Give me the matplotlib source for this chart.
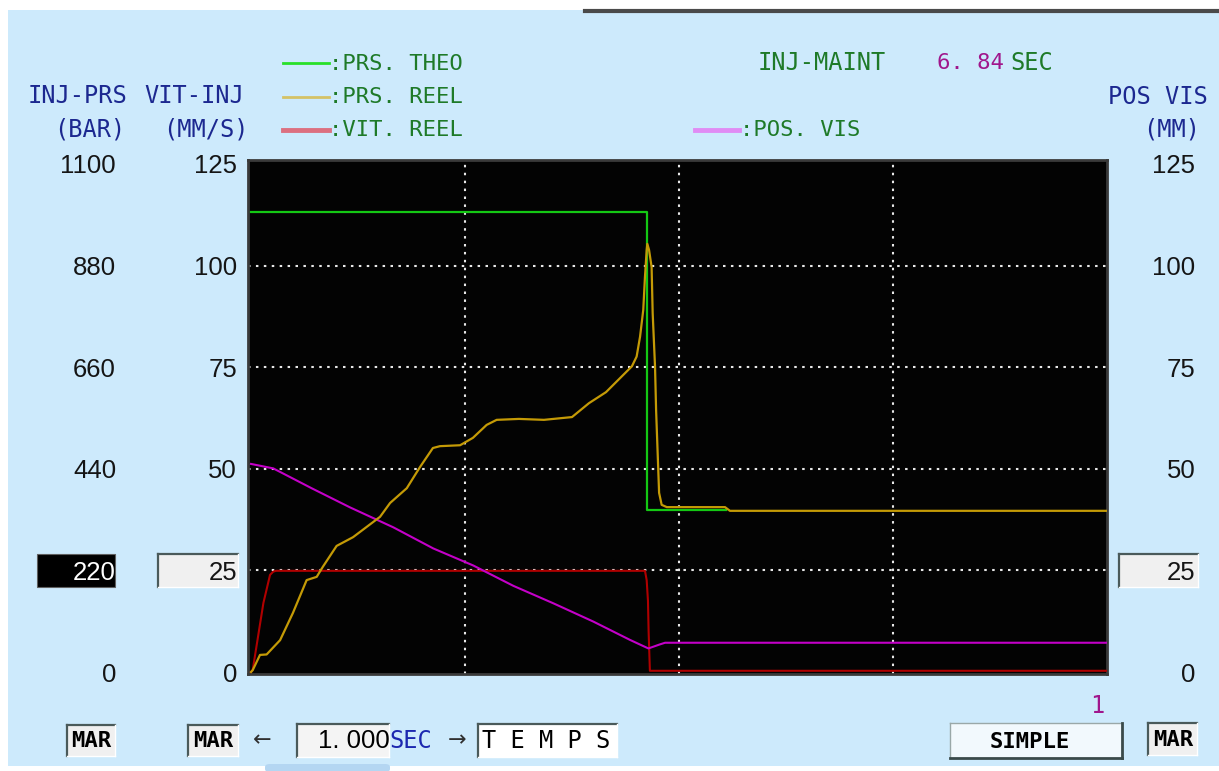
import matplotlib
matplotlib.use("Agg")
import matplotlib.pyplot as plt
from matplotlib.patches import Rectangle, FancyBboxPatch
from matplotlib.lines import Line2D

# ---- data -------------------------------------------------------------
# theoretical injection pressure profile (s, bar)
prs_theo_t = [0.0, 1.850, 1.850, 2.22]
prs_theo_bar = [995, 995, 350, 350]

# measured injection pressure (s, bar)
prs_reel_t = [0.0, 0.008, 0.042, 0.073, 0.136, 0.196, 0.260, 0.307, 0.336, 0.400,
              0.477, 0.540, 0.603, 0.650, 0.728, 0.790, 0.850, 0.883, 0.977, 1.037,
              1.101, 1.148, 1.252, 1.369, 1.500, 1.579, 1.659, 1.780, 1.802, 1.818,
              1.833, 1.841, 1.849, 1.852, 1.860, 1.872, 1.877, 1.888, 1.893, 1.907,
              1.919, 1.943, 2.215, 2.238, 4.0]
prs_reel_bar = [0, 4, 37, 38, 69, 128, 199, 206, 228, 273,
                292, 314, 336, 366, 398, 444, 485, 489, 491, 507,
                535, 546, 548, 546, 552, 582, 606, 662, 683, 726,
                784, 856, 914, 927, 914, 877, 777, 661, 567, 388,
                362, 357, 357, 349, 349]

# measured injection speed (s, mm/s)
vit_reel_t = [0.0, 0.008, 0.058, 0.089, 0.104, 0.117, 1.841, 1.849, 1.855, 1.858, 1.864, 4.0]
vit_reel_mms = [0.0, 0.5, 17.0, 23.9, 24.7, 24.9, 24.9, 22.6, 17.5, 10.0, 0.3, 0.3]

# screw position (s, mm)
pos_vis_t = [0.0, 0.104, 0.284, 0.463, 0.665, 0.852, 1.039, 1.226, 1.413, 1.600,
             1.771, 1.857, 1.911, 1.935, 4.0]
pos_vis_mm = [51.2, 50.1, 45.2, 40.5, 35.6, 30.4, 26.2, 21.2, 16.9, 12.4,
              7.9, 5.8, 6.8, 7.2, 7.2]

prs_ticks = [0, 220, 440, 660, 880, 1100]
vit_ticks = [0, 25, 50, 75, 100, 125]
pos_ticks = [0, 25, 50, 75, 100, 125]
grid_t = [1, 2, 3]
grid_v = [25, 50, 75, 100]
inj_maint = "6. 84"
time_div = "1. 000"

# ---- figure in pixel units ---------------------------------------------
W, H = 1219, 771
fig = plt.figure(figsize=(W / 100, H / 100), dpi=100, facecolor="white")

MONO = "DejaVu Sans Mono"
SANS = "Liberation Sans"
NAVY = "#1c2890"
DGREEN = "#1e7a28"
PURPLE = "#a0168c"
PANEL = "#cdeafc"


def ftext(x, y, s, **kw):
    kw.setdefault("va", "center")
    kw.setdefault("family", MONO)
    return fig.text(x / W, 1 - y / H, s, **kw)


def frect(x0, y0, x1, y1, **kw):
    kw.setdefault("zorder", -5)
    r = Rectangle((x0 / W, 1 - y1 / H), (x1 - x0) / W, (y1 - y0) / H,
                  transform=fig.transFigure, **kw)
    fig.add_artist(r)
    return r


def fline(xs, ys, **kw):
    kw.setdefault("zorder", -4)
    ln = Line2D([x / W for x in xs], [1 - y / H for y in ys],
                transform=fig.transFigure, **kw)
    fig.add_artist(ln)
    return ln


def sunken_box(x0, y0, x1, y1, fill="#f0f0f0", dark="#4a5a5a", light="#ffffff"):
    frect(x0, y0, x1, y1, facecolor=fill, edgecolor="none")
    fline([x0, x1], [y0, y0], color=dark, lw=1.6)
    fline([x0, x0], [y0, y1], color=dark, lw=1.6)
    fline([x0, x1], [y1, y1], color=light, lw=1.0)
    fline([x1, x1], [y0, y1], color=light, lw=1.0)


def raised_box(x0, y0, x1, y1, fill="#f2f9fd", dark="#3a4a4a"):
    frect(x0, y0, x1, y1, facecolor=fill, edgecolor="none")
    fline([x0, x1], [y0, y0], color="#9aa8a8", lw=1.0)
    fline([x0, x0], [y0, y1], color="#9aa8a8", lw=1.0)
    fline([x0, x1], [y1, y1], color=dark, lw=2.0)
    fline([x1, x1], [y0, y1], color=dark, lw=2.0)


# panel background
frect(8, 10, W, 766, facecolor=PANEL, edgecolor="none", zorder=-10)
fline([585, W], [10.5, 10.5], color="#4a4a4a", lw=3, zorder=-9)
fig.add_artist(FancyBboxPatch((265 / W, 1 - 772 / H), 125 / W, 8 / H,
                              boxstyle="round,pad=0,rounding_size=0.004",
                              transform=fig.transFigure, facecolor="#b4d6f2",
                              edgecolor="none", zorder=-9))

# ---- plot axes ------------------------------------------------------------
L, R, T, B = 248, 1107, 160, 674
rect = [L / W, 1 - B / H, (R - L) / W, (B - T) / H]
ax = fig.add_axes(rect)
ax.set_facecolor("#030303")
ax.set_xlim(-0.014, 4.0)
ax.set_ylim(-0.49, 125.98)

ax.set_xticks([])
ax.set_yticks(vit_ticks)
ax.set_yticklabels([str(v) for v in vit_ticks], family=SANS)
ax.tick_params(which="both", length=0)
ax.tick_params(axis="y", pad=8.0, labelsize=18.5, labelcolor="#151515")
for sp in ax.spines.values():
    sp.set_color("#3a3a3a")
    sp.set_linewidth(2)

# dotted white grid
grid_style = dict(color="#e8e8e8", linestyle=(0, (1.2, 2.6)), lw=1.5, zorder=1)
for t in grid_t:
    ax.axvline(t, **grid_style)
for v in grid_v:
    ax.axhline(v, **grid_style)

ax.plot(vit_reel_t, vit_reel_mms, color="#b00000", lw=1.5, zorder=3)
ax.plot(pos_vis_t, pos_vis_mm, color="#c400c8", lw=1.5, zorder=3)

# pressure scale (left outer column)
axp = fig.add_axes(rect, sharex=ax)
axp.patch.set_visible(False)
for sp in axp.spines.values():
    sp.set_visible(False)
axp.set_ylim(-0.49 * 8.8, 125.98 * 8.8)
axp.set_yticks(prs_ticks)
axp.set_yticklabels([str(v) for v in prs_ticks], family=SANS)
axp.tick_params(which="both", length=0)
axp.tick_params(axis="x", which="both", labelbottom=False)
axp.tick_params(axis="y", pad=95.0, labelsize=18.5, labelcolor="#151515")
axp.plot(prs_theo_t, prs_theo_bar, color="#14c814", lw=1.6, zorder=4)
axp.plot(prs_reel_t, prs_reel_bar, color="#c49a06", lw=1.6, zorder=5)

# screw position scale (right column)
axr = ax.twinx()
axr.set_ylim(ax.get_ylim())
axr.set_yticks(pos_ticks)
axr.set_yticklabels([str(v) for v in pos_ticks], family=SANS)
axr.tick_params(length=0, pad=63.5, labelsize=18.5, labelcolor="#151515")
for lab in axr.get_yticklabels():
    lab.set_horizontalalignment("right")
for sp in axr.spines.values():
    sp.set_visible(False)

# highlighted scale boxes
frect(37, 554, 115, 587, facecolor="black", edgecolor="#606060", lw=0.8)
sunken_box(158, 554, 238, 587)
sunken_box(1119, 554, 1198, 587)
axp.get_yticklabels()[1].set_color("white")

# ---- header ----------------------------------------------------------------
ftext(77, 96, "INJ-PRS", color=NAVY, size=17, ha="center")
ftext(90, 129, "(BAR)", color=NAVY, size=17, ha="center")
ftext(194, 96, "VIT-INJ", color=NAVY, size=17, ha="center")
ftext(206, 129, "(MM/S)", color=NAVY, size=17, ha="center")

fline([283, 329], [63, 63], color="#28e028", lw=2, zorder=2)
fline([283, 329], [97, 97], color="#d4c266", lw=2, zorder=2)
fline([283, 329], [130, 130], color="#dc7080", lw=3.5, zorder=2)
ftext(329, 64, ":PRS. THEO", color=DGREEN, size=16)
ftext(329, 97, ":PRS. REEL", color=DGREEN, size=16)
ftext(329, 130, ":VIT. REEL", color=DGREEN, size=16)

ftext(758, 63, "INJ-MAINT", color=DGREEN, size=17)
ftext(937, 63, inj_maint, color=PURPLE, size=16)
ftext(1010, 63, "SEC", color=DGREEN, size=17)

fline([695, 739], [130, 130], color="#e08cf4", lw=3.5, zorder=2)
ftext(740, 130, ":POS. VIS", color=DGREEN, size=16)

ftext(1208, 97, "POS VIS", color=NAVY, size=17, ha="right")
ftext(1200, 129, "(MM)", color=NAVY, size=17, ha="right")

# ---- bottom controls -------------------------------------------------------
sunken_box(67, 725, 115, 756)
ftext(91, 741, "MAR", color="black", size=16, weight="bold", ha="center")
sunken_box(188, 725, 238, 756)
ftext(213, 741, "MAR", color="black", size=16, weight="bold", ha="center")
ftext(262, 740, "\u2190", color="#303030", size=16, ha="center", family="DejaVu Sans")
sunken_box(297, 724, 389, 757, fill="#f4f4f4")
ftext(390, 741, time_div, color="black", size=18.5, ha="right", family=SANS)
ftext(389, 741, "SEC", color="#1c28b0", size=17)
ftext(457, 740, "\u2192", color="#303030", size=16, ha="center", family="DejaVu Sans")
sunken_box(478, 724, 617, 757, fill="#ffffff")
ftext(482, 741, "T E M P S", color="black", size=17)

ftext(1097, 706, "1", color=PURPLE, size=17, ha="center")
raised_box(950, 723, 1122, 758)
ftext(1030, 742, "SIMPLE", color="black", size=16, weight="bold", ha="center")
sunken_box(1148, 723, 1197, 755)
ftext(1173, 740, "MAR", color="black", size=16, weight="bold", ha="center")

fig.savefig("out.png", dpi=100, facecolor=fig.get_facecolor())
